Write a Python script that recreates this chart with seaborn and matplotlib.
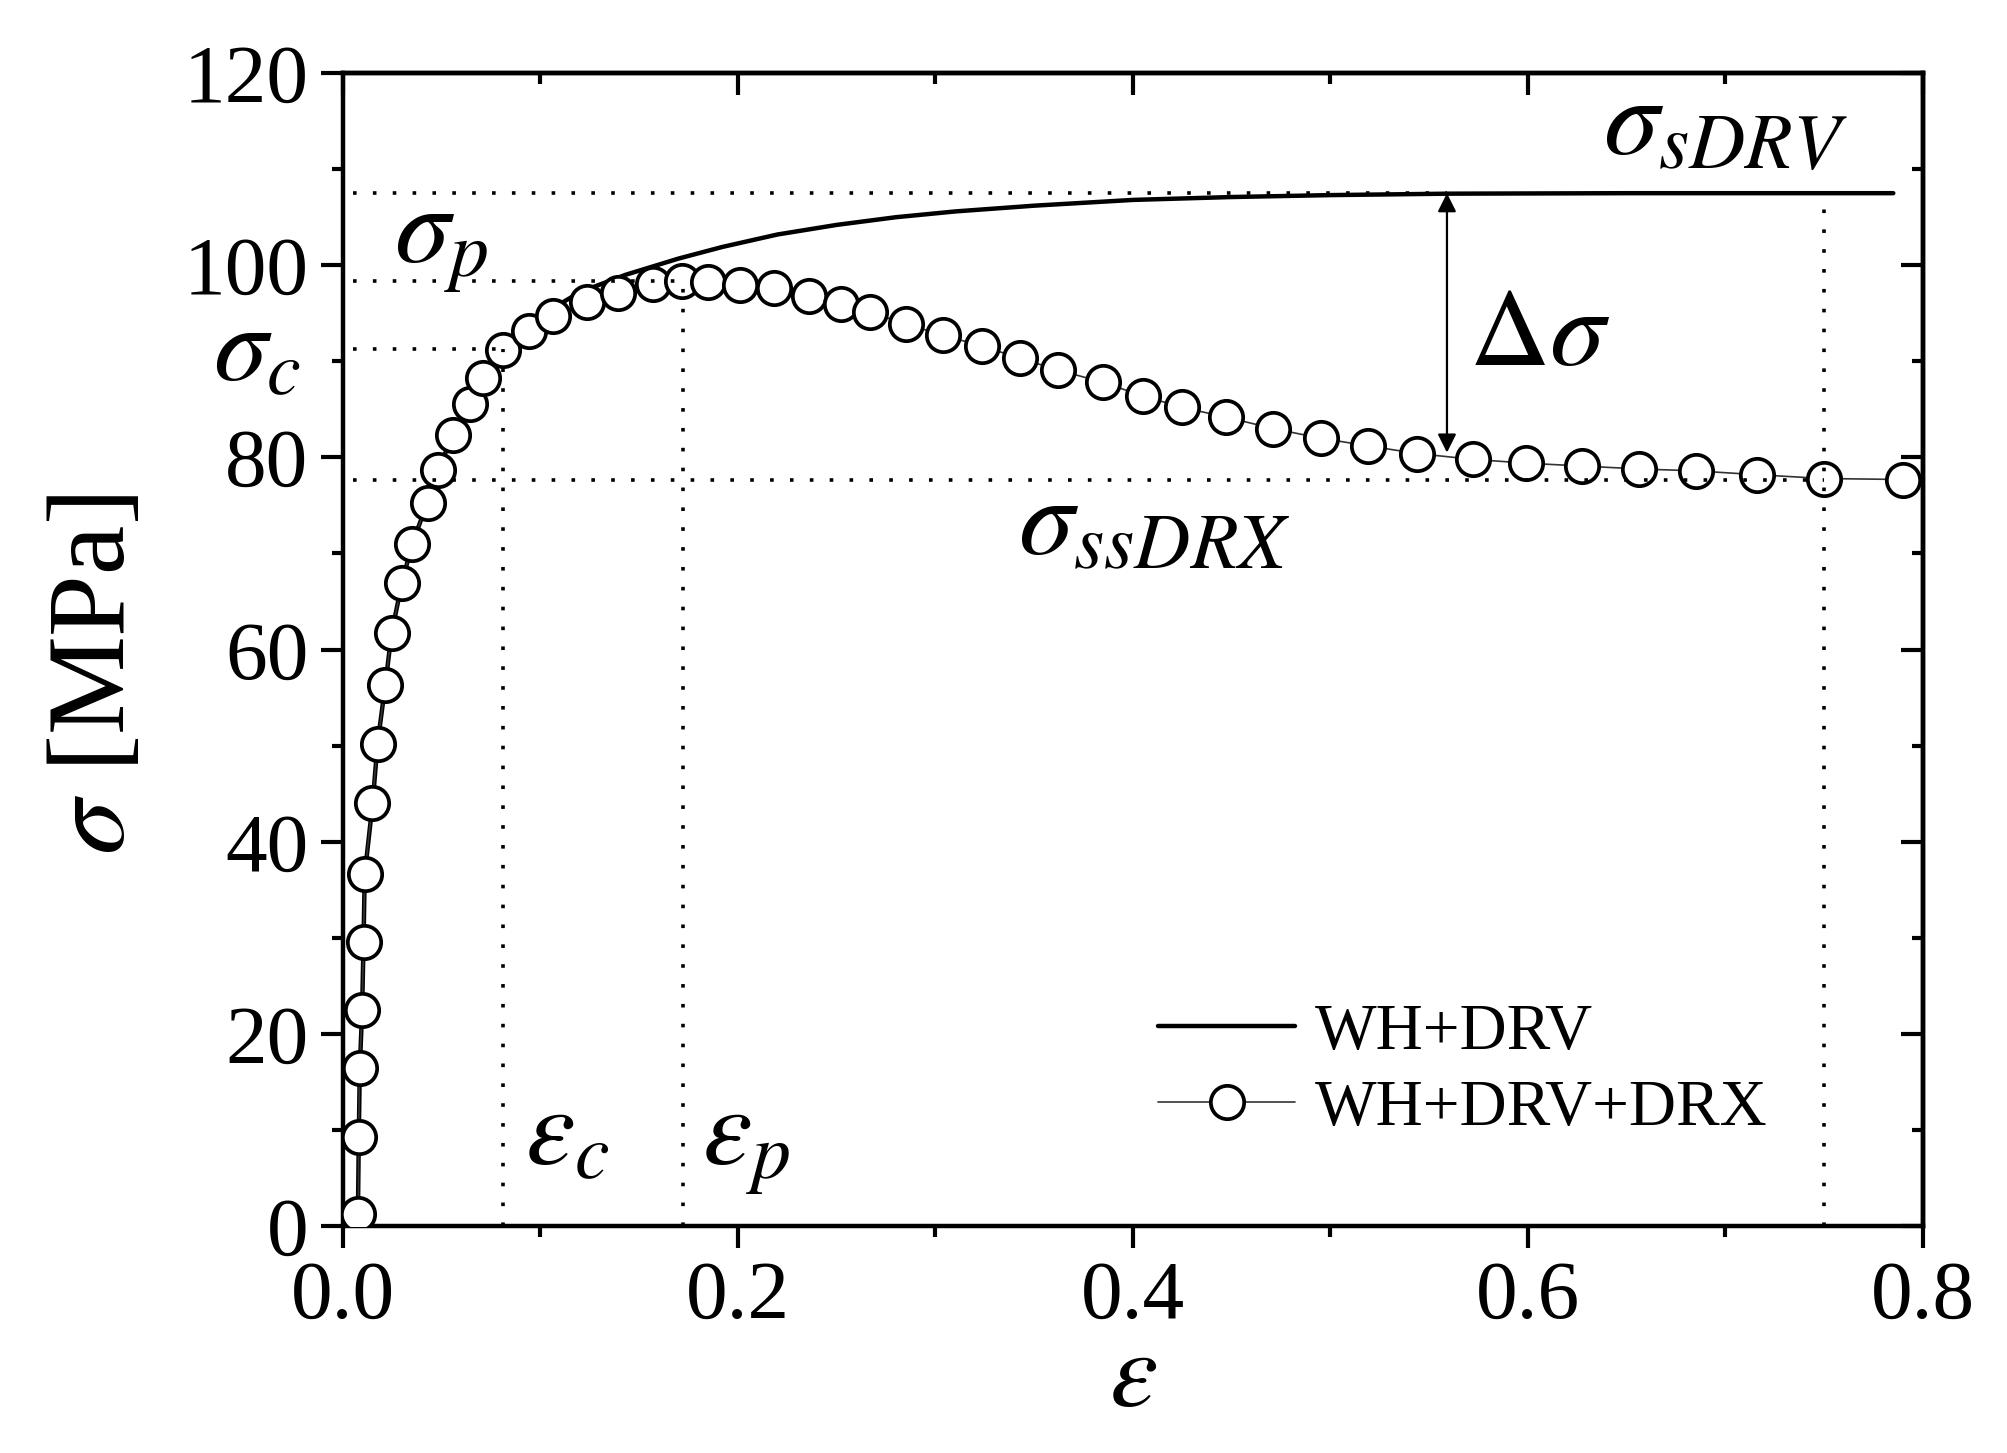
import matplotlib
matplotlib.use("Agg")
import matplotlib.pyplot as plt
import seaborn as sns
import pandas as pd
from matplotlib.ticker import MultipleLocator, FormatStrFormatter

# WH+DRV curve (solid)
drv_strain = [0.0075, 0.008, 0.0085, 0.0097, 0.0104, 0.011, 0.015, 0.0175, 0.0214, 0.0246,
              0.0298, 0.035, 0.0428, 0.048, 0.0558, 0.0642, 0.0707, 0.081, 0.094, 0.106,
              0.12, 0.143, 0.17, 0.192, 0.22, 0.25, 0.28, 0.31, 0.35, 0.40, 0.45,
              0.50, 0.56, 0.65, 0.785]
drv_stress = [0.0, 9.3, 16.4, 22.5, 29.6, 36.6, 44.0, 50.2, 56.3, 61.7,
              66.9, 71.0, 75.3, 78.7, 82.3, 85.6, 88.3, 91.3, 93.6, 95.5,
              97.2, 99.0, 100.7, 101.9, 103.2, 104.2, 105.0, 105.6, 106.2, 106.8, 107.1,
              107.3, 107.45, 107.5, 107.5]

# WH+DRV+DRX curve (circles)
drx_strain = [0.0078, 0.0079, 0.0084, 0.0097, 0.0104, 0.011, 0.0149, 0.0175, 0.0214, 0.0246,
              0.0298, 0.035, 0.0428, 0.048, 0.0558, 0.0642, 0.0707, 0.081, 0.094, 0.1063,
              0.1238, 0.1394, 0.1569, 0.1718, 0.1848, 0.201, 0.218, 0.236, 0.252, 0.267,
              0.285, 0.304, 0.3235, 0.343, 0.362, 0.385, 0.405, 0.425, 0.447, 0.471,
              0.495, 0.519, 0.544, 0.572, 0.599, 0.6276, 0.656, 0.685, 0.716, 0.750, 0.790]
drx_stress = [1.3, 9.3, 16.4, 22.5, 29.6, 36.6, 44.0, 50.2, 56.3, 61.7,
              66.9, 71.0, 75.3, 78.7, 82.3, 85.6, 88.3, 91.2, 93.2, 94.7,
              96.2, 97.1, 98.0, 98.4, 98.3, 97.9, 97.6, 96.8, 96.0, 95.1,
              93.9, 92.7, 91.6, 90.3, 89.1, 87.8, 86.4, 85.2, 84.2, 83.0,
              82.0, 81.2, 80.4, 79.8, 79.4, 79.1, 78.8, 78.6, 78.2, 77.8, 77.7]

# characteristic points
eps_c, eps_p, eps_ss = 0.081, 0.172, 0.75
sig_c, sig_p, sig_sdrv, sig_ss = 91.3, 98.4, 107.5, 77.7
delta_x, delta_low = 0.559, 80.5

sns.set_style("ticks", {"axes.edgecolor": "black", "text.color": "black",
                        "xtick.color": "black", "ytick.color": "black",
                        "axes.labelcolor": "black"})
plt.rcParams["font.family"] = ["Liberation Serif", "DejaVu Serif"]
plt.rcParams["mathtext.fontset"] = "stix"

fig = plt.figure(figsize=(20.07, 14.53), dpi=100)
ax = fig.add_axes([0.1709, 0.1562, 0.7872, 0.7935])

df_drv = pd.DataFrame({"strain": drv_strain, "stress": drv_stress})
df_drx = pd.DataFrame({"strain": drx_strain, "stress": drx_stress})

sns.lineplot(data=df_drv, x="strain", y="stress", estimator=None, sort=False, ax=ax,
             color="black", lw=3.2, label="WH+DRV", zorder=2)
sns.lineplot(data=df_drx, x="strain", y="stress", estimator=None, sort=False, ax=ax,
             color="#333333", lw=1.2, marker="o", markersize=24, markerfacecolor="white",
             markeredgecolor="black", markeredgewidth=2.7, label="WH+DRV+DRX", zorder=3)

# dotted guide lines
dot = dict(color="black", lw=2.6, ls=(0, (1, 4.5)), zorder=4)
ax.plot([0.005, delta_x], [sig_sdrv, sig_sdrv], **dot)
ax.plot([0.005, eps_p], [sig_p, sig_p], **dot)
ax.plot([0.005, eps_c], [sig_c, sig_c], **dot)
ax.plot([0.005, eps_ss], [sig_ss, sig_ss], **dot)
ax.plot([eps_c, eps_c], [0, sig_c], **dot)
ax.plot([eps_p, eps_p], [0, sig_p], **dot)
ax.plot([eps_ss, eps_ss], [0, sig_sdrv], **dot)

# delta sigma arrow
ax.annotate("", xy=(delta_x, delta_low), xytext=(delta_x, sig_sdrv),
            arrowprops=dict(arrowstyle="<|-|>", color="black", lw=1.6, mutation_scale=28,
                            shrinkA=0, shrinkB=0), zorder=5)

# labels
fs = 80
ax.text(0.026, 100.3, r"$\sigma_p$", fontsize=fs)
ax.text(-0.066, 88.0, r"$\sigma_c$", fontsize=78)
ax.text(0.638, 111.4, r"$\sigma_{sDRV}$", fontsize=fs)
ax.text(0.342, 70.0, r"$\sigma_{ssDRX}$", fontsize=fs)
ax.text(0.092, 6.4, r"$\varepsilon_c$", fontsize=fs)
ax.text(0.182, 6.4, r"$\varepsilon_p$", fontsize=fs)
ax.text(0.570, 89.6, r"$\Delta\sigma$", fontsize=fs)

ax.set_xlim(0, 0.8)
ax.set_ylim(0, 120)
ax.xaxis.set_major_locator(MultipleLocator(0.2))
ax.xaxis.set_minor_locator(MultipleLocator(0.1))
ax.yaxis.set_major_locator(MultipleLocator(20))
ax.yaxis.set_minor_locator(MultipleLocator(10))
ax.xaxis.set_major_formatter(FormatStrFormatter("%.1f"))

ax.set_xlabel(r"$\varepsilon$", fontsize=78, labelpad=-4)
ax.set_ylabel(r"$\sigma$ [MPa]", fontsize=80)
ax.yaxis.set_label_coords(-0.124, 0.478)

for s in ax.spines.values():
    s.set_linewidth(3.2)
    s.set_visible(True)
ax.tick_params(which="both", direction="out", width=3.0, labelsize=60, top=False, right=False)
ax.tick_params(which="major", length=16, pad=9)
ax.tick_params(which="minor", length=8)
# mirrored inward ticks on top/right
ax2 = ax.secondary_xaxis("top")
ax2.xaxis.set_major_locator(MultipleLocator(0.2))
ax2.xaxis.set_minor_locator(MultipleLocator(0.1))
ax2.tick_params(which="both", direction="in", width=3.0, labeltop=False)
ax2.tick_params(which="major", length=16)
ax2.tick_params(which="minor", length=8)
ax3 = ax.secondary_yaxis("right")
ax3.yaxis.set_major_locator(MultipleLocator(20))
ax3.yaxis.set_minor_locator(MultipleLocator(10))
ax3.tick_params(which="both", direction="in", width=3.0, labelright=False)
ax3.tick_params(which="major", length=16)
ax3.tick_params(which="minor", length=8)
for a in (ax2, ax3):
    for s in a.spines.values():
        s.set_linewidth(3.2)

ax.legend(loc="upper left", bbox_to_anchor=(0.516, 0.193), frameon=False, fontsize=47,
          handlelength=2.1, handletextpad=0.3, borderpad=0, borderaxespad=0,
          labelspacing=0.25, markerscale=1.0)

fig.savefig("out.png", dpi=100)
plt.close(fig)
